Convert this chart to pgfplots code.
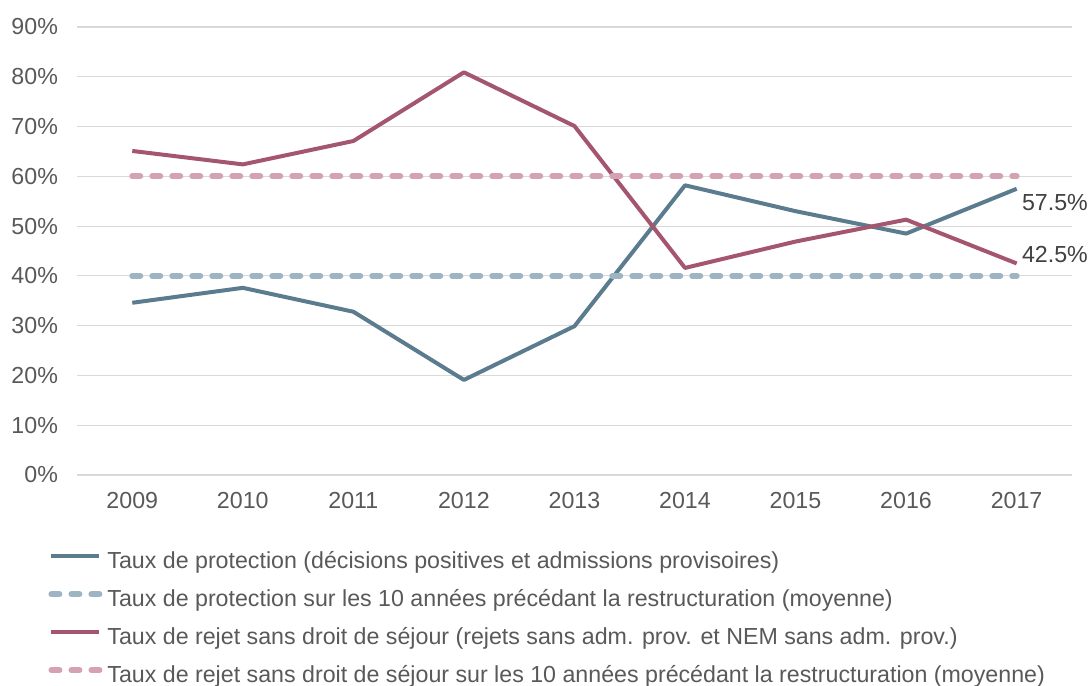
\documentclass[border=0pt]{standalone}
\usepackage{pgfplots}
\pgfplotsset{compat=1.18}
\usepackage{fontspec}
\setmainfont{Liberation Sans}

\definecolor{prot}{HTML}{5B7B8E}
\definecolor{protavg}{HTML}{9FB4C3}
\definecolor{rej}{HTML}{A5566F}
\definecolor{rejavg}{HTML}{D4A2B2}
\definecolor{txt}{HTML}{595959}
\definecolor{grd}{HTML}{D9D9D9}

\begin{document}
\begin{tikzpicture}
\begin{axis}[
    at={(0,0)}, anchor=south west,
    scale only axis,
    width=497.5pt, height=224pt,
    xmin=2008.5, xmax=2017.5,
    ymin=0, ymax=90,
    xtick={2009,...,2017},
    ytick={0,10,...,90},
    xticklabel style={/pgf/number format/1000 sep={}},
    yticklabel={\pgfmathprintnumber{\tick}\%},
    /pgf/number format/assume math mode=true,
    ymajorgrids,
    grid style={grd, line width=0.6pt},
    axis line style={draw=none},
    major tick length=0pt,
    tick label style={font=\fontsize{11.6}{13}\selectfont, text=txt},
    xticklabel style={yshift=-5pt},
    yticklabel style={xshift=-6pt},
    clip=false,
    legend cell align=left,
    legend style={
        at={(axis description cs:-0.0291,-0.170)}, anchor=north west,
        draw=none, fill=none, inner sep=0pt,
        font=\fontsize{11.6}{13}\selectfont, text=txt,
        row sep=8.3pt,
        nodes={inner sep=0pt, text height=8.4pt, text depth=2.3pt},
    },
    legend image code/.code={\draw[#1] (0pt,3pt) -- (24pt,3pt);},
]
\addplot[prot, line width=2pt, line join=round] coordinates {
    (2009,34.6) (2010,37.6) (2011,32.8) (2012,19.1) (2013,29.9)
    (2014,58.2) (2015,53.0) (2016,48.5) (2017,57.5)};
\addlegendentry{\hspace{2.5pt}Taux de protection (décisions positives et admissions provisoires)}
\addplot[protavg, line width=3pt, line cap=round, dash pattern=on 4pt off 6pt] coordinates {
    (2009,40) (2010,40) (2011,40) (2012,40) (2013,40)
    (2014,40) (2015,40) (2016,40) (2017,40)};
\addlegendentry{\hspace{2.5pt}Taux de protection sur les 10 années précédant la restructuration (moyenne)}
\addplot[rej, line width=2pt, line join=round] coordinates {
    (2009,65.1) (2010,62.4) (2011,67.1) (2012,80.9) (2013,70.1)
    (2014,41.6) (2015,46.9) (2016,51.3) (2017,42.5)};
\addlegendentry{\hspace{2.5pt}Taux de rejet sans droit de séjour (rejets sans adm. prov. et NEM sans adm. prov.)}
\addplot[rejavg, line width=3pt, line cap=round, dash pattern=on 4pt off 6pt] coordinates {
    (2009,60) (2010,60) (2011,60) (2012,60) (2013,60)
    (2014,60) (2015,60) (2016,60) (2017,60)};
\addlegendentry{\hspace{2.5pt}Taux de rejet sans droit de séjour sur les 10 années précédant la restructuration (moyenne)}
\node[anchor=west, inner sep=0pt, text=black!75, font=\fontsize{11.6}{13}\selectfont]
    at ([xshift=2.5pt,yshift=-7pt]axis cs:2017,57.5) {57.5\%};
\node[anchor=west, inner sep=0pt, text=black!75, font=\fontsize{11.6}{13}\selectfont]
    at ([xshift=2.5pt,yshift=4.5pt]axis cs:2017,42.5) {42.5\%};
\end{axis}
\pgfresetboundingbox
\path (-38.5pt,-105.5pt) rectangle (506pt,237.5pt);
\end{tikzpicture}
\end{document}
